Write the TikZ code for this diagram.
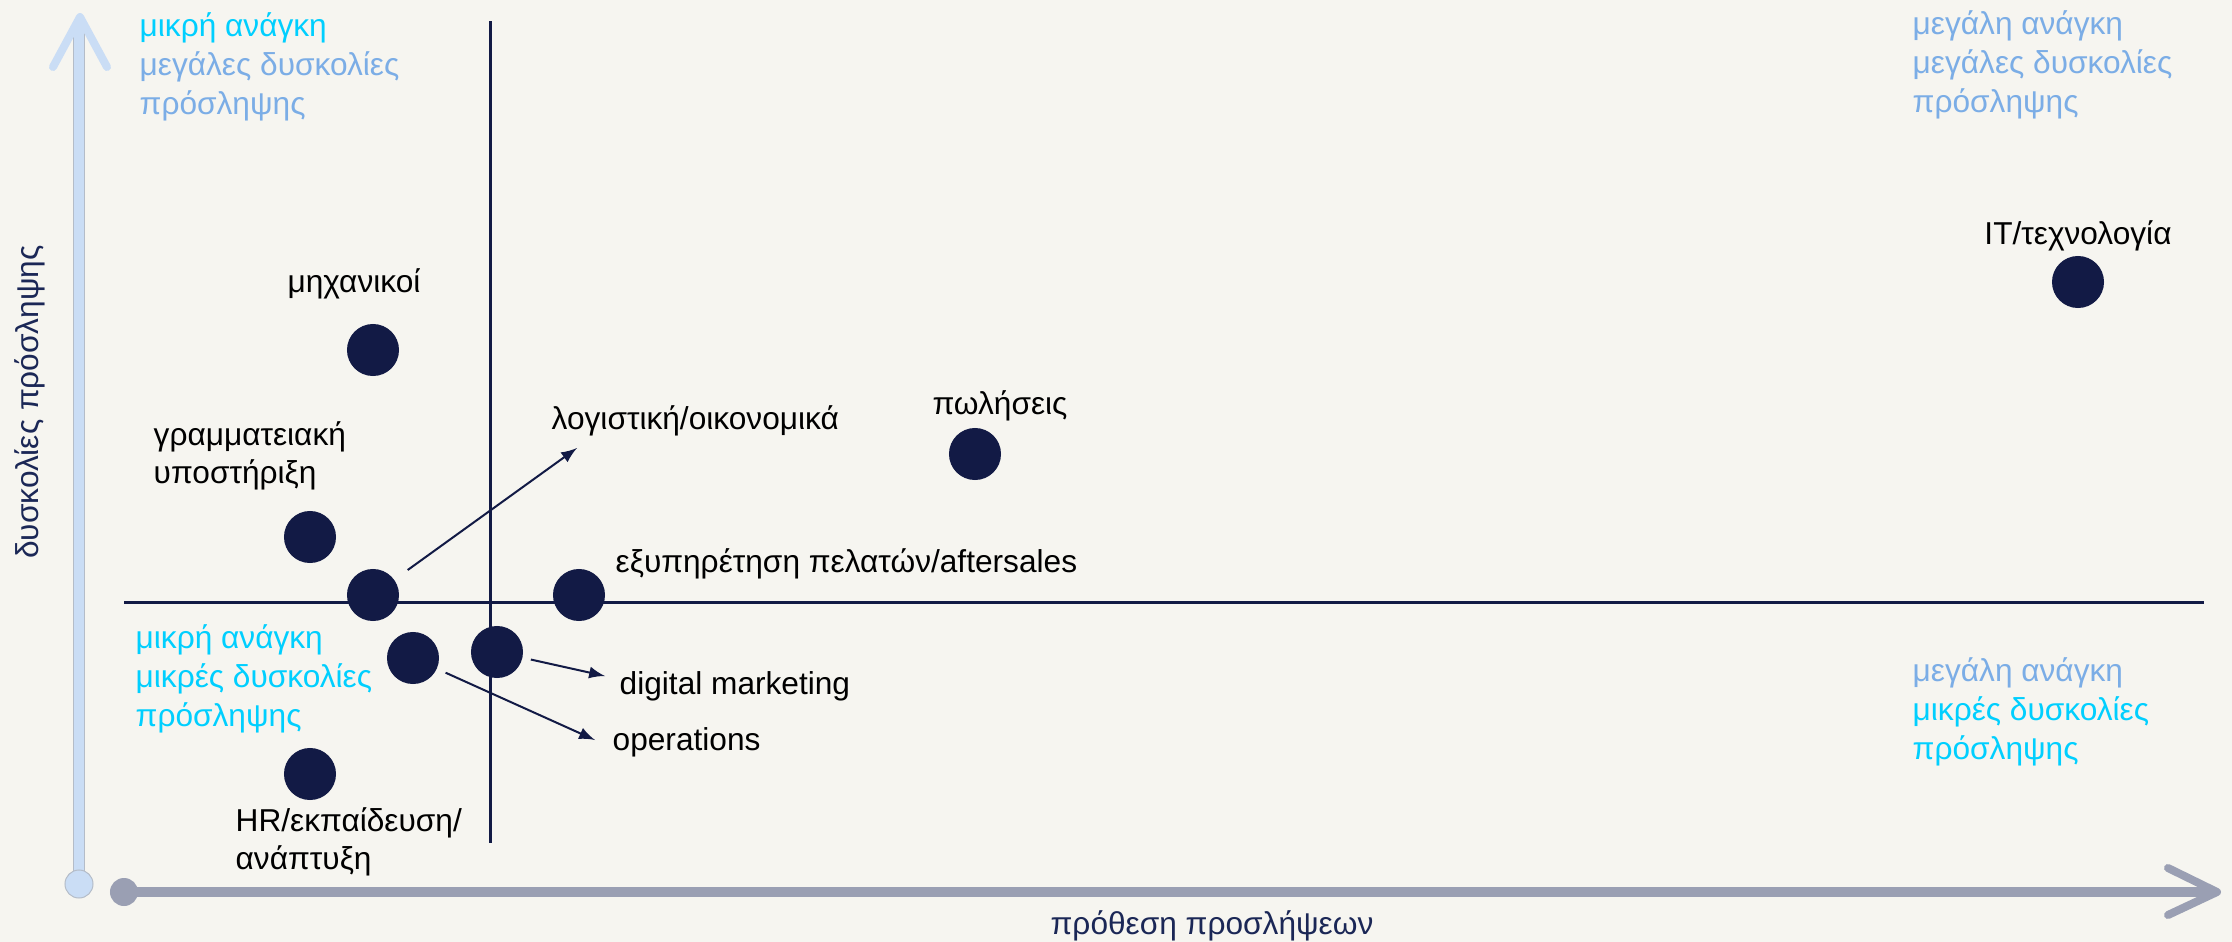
\documentclass[tikz,border=0pt]{standalone}
\usepackage{fontspec}
\setmainfont{Liberation Sans}
\usetikzlibrary{positioning}
\definecolor{paper}{HTML}{F6F5F0}
\definecolor{navy}{HTML}{121A45}
\definecolor{axisnavy}{HTML}{1B2756}
\definecolor{cyanlbl}{HTML}{00CFFF}
\definecolor{bluelbl}{HTML}{7BADE6}
\definecolor{yaxis}{HTML}{CADDF5}
\definecolor{yedge}{HTML}{B4BCC8}
\definecolor{xaxis}{HTML}{9A9FB3}
\begin{document}
\begin{tikzpicture}[x=0.01cm,y=-0.01cm,>=latex,
  dot/.style={circle,fill=navy,inner sep=0pt,minimum size=0.52cm},
  lbl/.style={inner sep=0pt,align=left,font=\fontsize{9}{11}\selectfont},
  quad/.style={lbl,anchor=west,text=bluelbl},
  conn/.style={->,navy,line width=0.02cm}]
\fill[paper](0,0) rectangle (2232,942);
\useasboundingbox (0,0) rectangle (2232,942);
\draw[yedge,line width=0.12cm](79,884)--(79,24);
\draw[yaxis,line width=0.09cm](79,884)--(79,24);
\draw[yaxis,line width=0.08cm,line cap=round,line join=round](53,67)--(80,17)--(107,67);
\fill[yaxis,draw=yedge,line width=0.01cm](79,884) circle (0.14cm);
\draw[xaxis,line width=0.1cm](124,892)--(2210,892);
\draw[xaxis,line width=0.08cm,line cap=round,line join=round](2168,868)--(2217,892)--(2168,915);
\fill[xaxis](124,892) circle (0.14cm);
\node[lbl,text=axisnavy,rotate=90] (ylab) at (30,402) {δυσκολίες πρόσληψης};
\node[lbl,text=axisnavy] (xlab) at (1212,926) {πρόθεση προσλήψεων};
\draw[navy,line width=0.03cm](490,21)--(490,843);
\draw[navy,line width=0.03cm](124,602)--(2204,602);
\node[quad] (tl) at (139,67) {\textcolor{cyanlbl}{μικρή ανάγκη}\\μεγάλες δυσκολίες\\πρόσληψης};
\node[quad] (tr) at (1912,65) {μεγάλη ανάγκη\\μεγάλες δυσκολίες\\πρόσληψης};
\node[quad,text=cyanlbl] (bl) at (135,679) {μικρή ανάγκη\\μικρές δυσκολίες\\πρόσληψης};
\node[quad,text=cyanlbl] (br) at (1912,712) {\textcolor{bluelbl}{μεγάλη ανάγκη}\\μικρές δυσκολίες\\πρόσληψης};
\node[dot] (eng) at (373,350) {};
\node[dot] (secr) at (310,537) {};
\node[dot] (acct) at (373,595) {};
\node[dot] (ops) at (413,658) {};
\node[dot] (dig) at (497,652) {};
\node[dot] (serv) at (579,595) {};
\node[dot] (sales) at (975,454) {};
\node[dot] (tech) at (2078,282) {};
\node[dot] (hr) at (310,774) {};
\node[lbl] (engL) at (354,284) {μηχανικοί};
\node[lbl,anchor=west] (secrL) at (153,456) {γραμματειακή\\υποστήριξη};
\node[lbl,anchor=west] (acctL) at (551,421) {λογιστική/οικονομικά};
\node[lbl] (salesL) at (1000,406) {πωλήσεις};
\node[lbl] (techL) at (2078,236) {IT/τεχνολογία};
\node[lbl,anchor=west] (servL) at (615,564) {εξυπηρέτηση πελατών/aftersales};
\node[lbl,anchor=west] (digL) at (619,686) {digital marketing};
\node[lbl,anchor=west] (opsL) at (612,742) {operations};
\node[lbl,anchor=west] (hrL) at (235,842) {HR/εκπαίδευση/\\ανάπτυξη};
\coordinate (acctT) at (577,448);
\coordinate (digT) at (605,676);
\coordinate (opsT) at (595,740);
\draw[conn,shorten <=0.16cm] (acct) -- (acctT);
\draw[conn,shorten <=0.08cm] (dig) -- (digT);
\draw[conn,shorten <=0.09cm] (ops) -- (opsT);
\end{tikzpicture}
\end{document}
